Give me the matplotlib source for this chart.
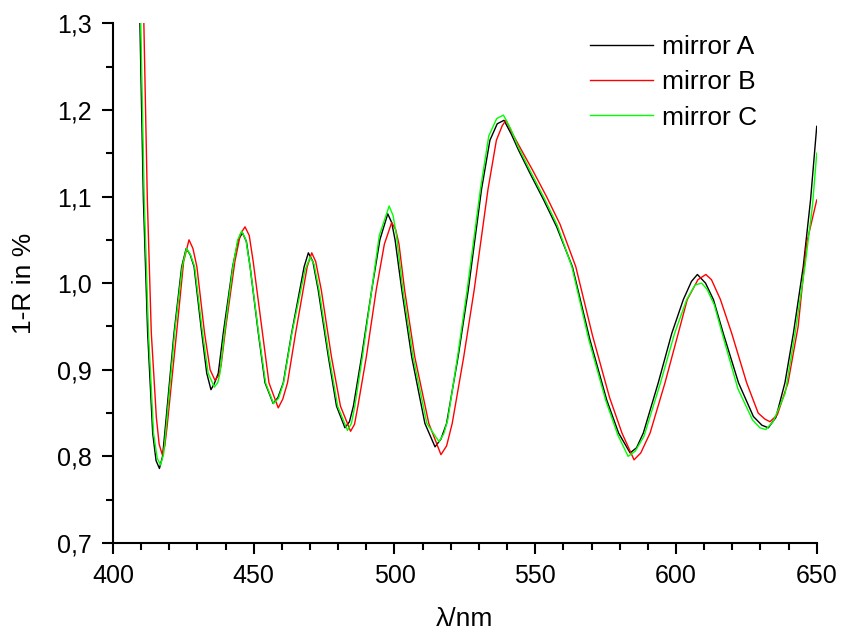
import matplotlib
matplotlib.use("Agg")
import matplotlib.pyplot as plt
from matplotlib.ticker import MultipleLocator, FuncFormatter

plt.rcParams["font.family"] = ["Liberation Sans", "DejaVu Sans"]

# Wavelength (nm) and 1-R (%) for the three mirrors
wl_a = [409.5, 410.8, 412.3, 414.1, 415.3, 416.5, 417.6, 418.4, 421.7, 424.4,
        426.0, 427.4, 428.8, 431.5, 433.3, 434.8, 436.0, 437.4, 439.2, 442.5,
        444.5, 446.0, 447.4, 448.7, 451.6, 454.0, 456.9, 458.6, 460.5, 463.5,
        467.9, 469.4, 471.0, 472.9, 476.5, 479.4, 482.4, 484.0, 485.4, 488.3,
        491.9, 494.8, 497.6, 499.0, 500.2, 502.6, 506.1, 510.8, 514.4, 516.5,
        518.5, 522.6, 526.2, 530.9, 533.9, 536.5, 538.9, 541.5, 544.0, 548.1,
        553.0, 557.6, 563.2, 569.4, 575.4, 579.6, 583.7, 586.0, 588.4, 593.7,
        598.5, 602.6, 605.5, 607.6, 610.5, 613.3, 616.8, 622.2, 627.5, 630.5,
        632.8, 635.5, 638.7, 641.7, 645.2, 647.8, 650.0]
loss_a = [1.310, 1.096, 0.943, 0.827, 0.795, 0.786, 0.800, 0.827, 0.943, 1.019,
          1.040, 1.033, 1.019, 0.943, 0.896, 0.877, 0.884, 0.896, 0.943, 1.019,
          1.050, 1.058, 1.048, 1.019, 0.943, 0.885, 0.861, 0.868, 0.885, 0.943,
          1.019, 1.035, 1.025, 0.992, 0.915, 0.858, 0.833, 0.840, 0.858, 0.915,
          0.992, 1.050, 1.080, 1.070, 1.050, 0.992, 0.915, 0.838, 0.811, 0.820,
          0.838, 0.915, 0.992, 1.108, 1.165, 1.184, 1.188, 1.172, 1.154, 1.127,
          1.096, 1.065, 1.019, 0.935, 0.865, 0.827, 0.804, 0.810, 0.827, 0.885,
          0.942, 0.981, 1.002, 1.010, 1.000, 0.981, 0.942, 0.885, 0.846, 0.836,
          0.833, 0.845, 0.885, 0.942, 1.019, 1.096, 1.181]

wl_b = [410.9, 412.2, 413.6, 415.4, 416.4, 417.5, 418.4, 419.2, 422.6, 425.1,
        427.0, 428.4, 429.8, 432.5, 434.5, 436.2, 437.5, 438.4, 440.1, 443.3,
        445.3, 446.9, 448.4, 449.8, 452.8, 455.4, 458.7, 460.3, 462.0, 464.9,
        469.0, 470.6, 472.0, 474.0, 477.6, 480.8, 484.4, 485.8, 487.0, 490.0,
        493.5, 496.4, 499.0, 500.4, 501.6, 503.6, 507.2, 512.2, 516.5, 518.5,
        520.5, 524.6, 528.3, 533.2, 536.2, 538.3, 539.6, 542.0, 544.7, 549.3,
        554.0, 558.8, 564.4, 570.3, 576.4, 580.8, 585.1, 587.5, 590.8, 596.1,
        600.8, 604.0, 607.8, 610.6, 612.6, 615.8, 619.8, 625.1, 629.2, 631.6,
        633.4, 636.0, 639.8, 643.4, 646.4, 650.0]
loss_b = [1.310, 1.096, 0.943, 0.845, 0.814, 0.802, 0.812, 0.834, 0.943, 1.025,
          1.050, 1.040, 1.019, 0.943, 0.900, 0.888, 0.893, 0.905, 0.950, 1.025,
          1.057, 1.065, 1.055, 1.025, 0.950, 0.885, 0.856, 0.866, 0.885, 0.943,
          1.019, 1.035, 1.025, 0.992, 0.915, 0.858, 0.829, 0.837, 0.858, 0.915,
          0.992, 1.045, 1.070, 1.062, 1.045, 0.992, 0.915, 0.838, 0.802, 0.812,
          0.838, 0.915, 0.992, 1.108, 1.165, 1.182, 1.188, 1.172, 1.156, 1.129,
          1.100, 1.068, 1.019, 0.940, 0.868, 0.827, 0.796, 0.804, 0.827, 0.885,
          0.942, 0.981, 1.004, 1.010, 1.004, 0.981, 0.942, 0.885, 0.850, 0.843,
          0.840, 0.848, 0.885, 0.950, 1.046, 1.096]

wl_c = [409.8, 411.1, 412.6, 414.4, 415.7, 416.9, 418.0, 418.7, 421.9, 424.6,
        426.1, 427.5, 429.0, 431.8, 433.8, 436.0, 437.2, 438.0, 439.6, 442.6,
        444.3, 445.7, 447.2, 448.7, 451.7, 454.2, 457.0, 458.8, 460.6, 463.6,
        468.2, 470.0, 471.4, 473.2, 476.8, 479.8, 483.3, 484.7, 485.9, 488.6,
        491.9, 494.6, 498.1, 499.5, 500.7, 503.0, 506.6, 511.5, 515.8, 517.5,
        518.9, 522.4, 525.8, 530.5, 533.5, 536.3, 538.7, 541.3, 544.0, 548.3,
        553.2, 557.8, 563.0, 569.0, 575.0, 579.3, 583.0, 585.5, 588.6, 594.5,
        599.5, 603.8, 606.8, 609.1, 611.0, 613.6, 617.0, 622.0, 627.2, 629.8,
        631.9, 634.5, 638.8, 642.3, 645.8, 648.5, 650.0]
loss_c = [1.310, 1.096, 0.943, 0.827, 0.798, 0.790, 0.803, 0.827, 0.943, 1.019,
          1.040, 1.033, 1.019, 0.943, 0.896, 0.880, 0.885, 0.896, 0.943, 1.019,
          1.050, 1.060, 1.050, 1.019, 0.943, 0.885, 0.861, 0.867, 0.885, 0.943,
          1.015, 1.030, 1.022, 0.992, 0.915, 0.858, 0.830, 0.838, 0.858, 0.915,
          0.992, 1.055, 1.089, 1.078, 1.055, 0.992, 0.915, 0.838, 0.817, 0.826,
          0.842, 0.915, 0.992, 1.108, 1.170, 1.190, 1.194, 1.178, 1.157, 1.129,
          1.098, 1.067, 1.019, 0.935, 0.865, 0.825, 0.800, 0.806, 0.823, 0.885,
          0.942, 0.981, 0.998, 1.000, 0.993, 0.975, 0.935, 0.878, 0.842, 0.833,
          0.831, 0.840, 0.873, 0.942, 1.019, 1.090, 1.150]


def comma_decimal(value, pos):
    return f"{value:.1f}".replace(".", ",")


fig = plt.figure(figsize=(8.42, 6.33), dpi=100)
ax = fig.add_axes([0.1342, 0.1422, 0.8358, 0.8210])

ax.plot(wl_a, loss_a, color="black", linewidth=1.0, label="mirror A")
ax.plot(wl_b, loss_b, color="#ff0000", linewidth=1.0, label="mirror B")
ax.plot(wl_c, loss_c, color="#00ff00", linewidth=1.0, label="mirror C")

ax.set_xlim(400, 650)
ax.set_ylim(0.7, 1.3)
ax.xaxis.set_major_locator(MultipleLocator(50))
ax.xaxis.set_minor_locator(MultipleLocator(10))
ax.yaxis.set_major_locator(MultipleLocator(0.1))
ax.yaxis.set_minor_locator(MultipleLocator(0.05))
ax.yaxis.set_major_formatter(FuncFormatter(comma_decimal))

for side in ("top", "right"):
    ax.spines[side].set_visible(False)
for side in ("left", "bottom"):
    ax.spines[side].set_linewidth(1.5)

ax.tick_params(which="major", direction="out", length=8, width=1.5, labelsize=18)
ax.tick_params(which="minor", direction="out", length=5, width=1.5)
ax.tick_params(axis="x", which="major", pad=7)
ax.tick_params(axis="y", which="major", pad=7)

ax.set_xlabel("λ/nm", fontsize=19, labelpad=14)
ax.set_ylabel("1-R in %", fontsize=19, labelpad=15)

ax.legend(loc="upper left", bbox_to_anchor=(0.663, 0.998), frameon=False,
          fontsize=19, handlelength=2.4, handletextpad=0.33, labelspacing=0.43,
          borderaxespad=0)

fig.savefig("out.png", dpi=100)
